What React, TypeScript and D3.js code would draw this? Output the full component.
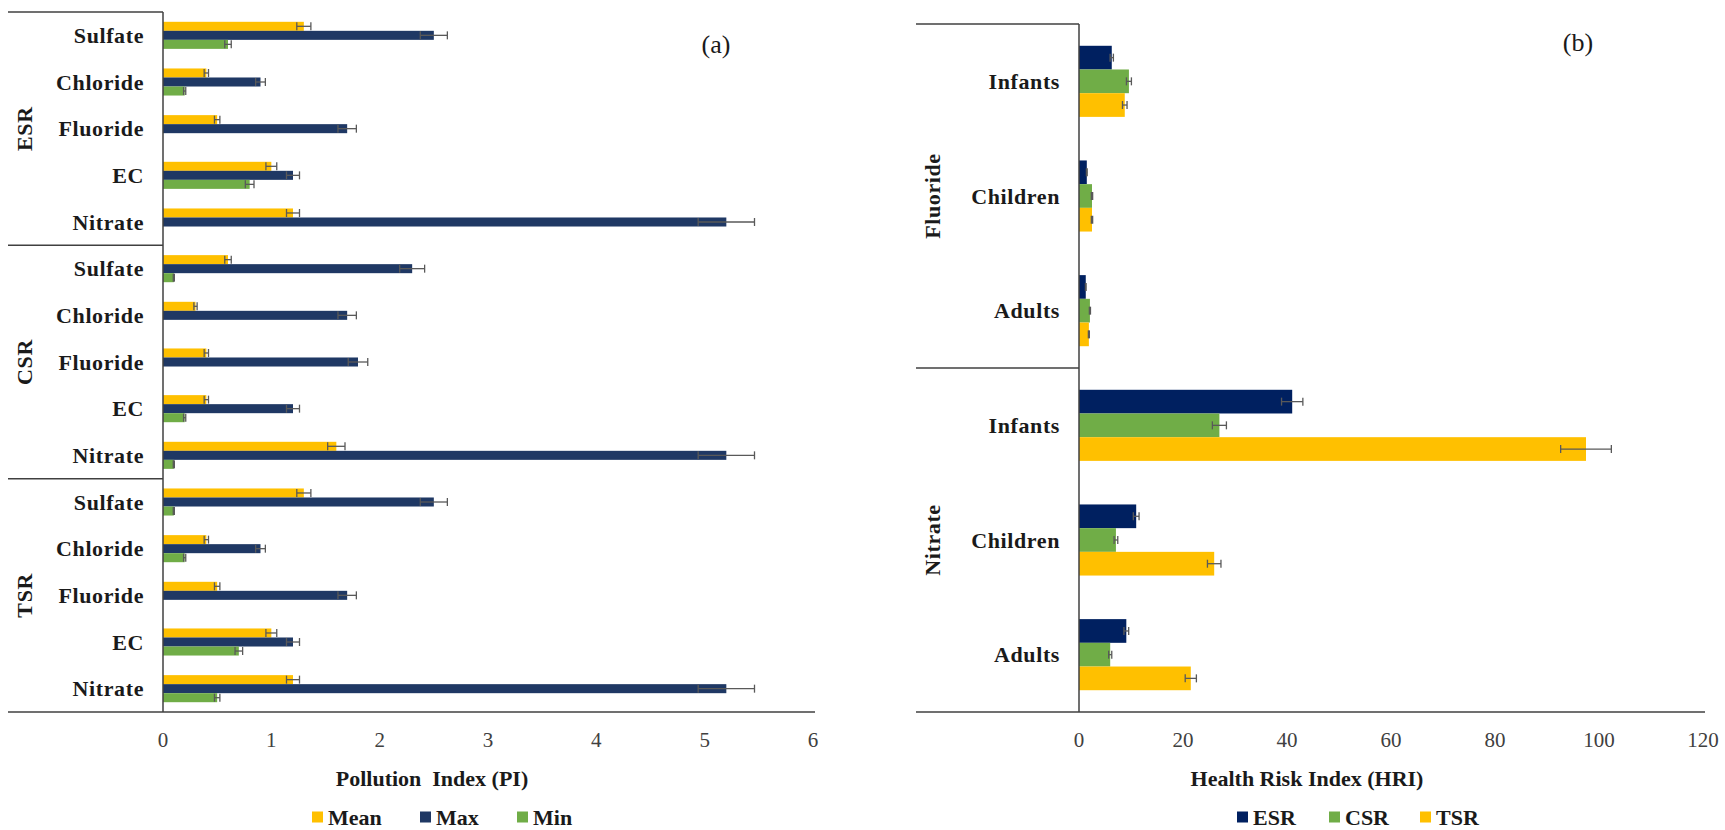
import React from 'react';
import * as d3 from 'd3';

// panel (a): pollution index
const groupsA = ['ESR', 'CSR', 'TSR'];
const paramsA = ['Sulfate', 'Chloride', 'Fluoride', 'EC', 'Nitrate'];
const seriesA = ['Mean', 'Max', 'Min'];
const meanA = [1.3, 0.4, 0.5, 1.0, 1.2, 0.6, 0.3, 0.4, 0.4, 1.6, 1.3, 0.4, 0.5, 1.0, 1.2];
const maxA = [2.5, 0.9, 1.7, 1.2, 5.2, 2.3, 1.7, 1.8, 1.2, 5.2, 2.5, 0.9, 1.7, 1.2, 5.2];
const minA = [0.6, 0.2, 0, 0.8, 0, 0.1, 0, 0, 0.2, 0.1, 0.1, 0.2, 0, 0.7, 0.5];
const ticksA = [0, 1, 2, 3, 4, 5, 6];

// panel (b): health risk index
const groupsB = ['Fluoride', 'Nitrate'];
const agesB = ['Infants', 'Children', 'Adults'];
const seriesB = ['ESR', 'CSR', 'TSR'];
const esrB = [6.3, 1.5, 1.3, 41, 11, 9.1];
const csrB = [9.6, 2.5, 2.1, 27, 7.1, 6];
const tsrB = [8.8, 2.5, 1.9, 97.5, 26, 21.5];
const ticksB = [0, 20, 40, 60, 80, 100, 120];

// Excel percentage error bars
const errorPct = 0.05;

const FONT = '"Liberation Serif", "Times New Roman", serif';
const AXIS = '#404040';

type PanelProps = {
  left: number;
  axisX: number;
  right: number;
  top: number;
  bottom: number;
  max: number;
  ticks: number[];
  groups: string[];
  cats: string[];
  series: string[];
  values: number[][];
  colors: string[];
  fill: number;
  title: string;
  titleX: number;
  tag: string;
  tagX: number;
  tagY: number;
  legendX: number[];
};

const Panel = (p: PanelProps) => {
  const x = d3.scaleLinear().domain([0, p.max]).range([p.axisX, p.right]);
  const keys = p.groups.flatMap((g) => p.cats.map((c) => `${g}|${c}`));
  const y = d3.scaleBand().domain(keys).range([p.top, p.bottom]).padding(0);
  const bw = y.bandwidth();
  const gh = bw * p.fill;
  const sub = d3
    .scaleBand()
    .domain(p.series)
    .range([(bw - gh) / 2, (bw + gh) / 2])
    .padding(0);
  const bh = sub.bandwidth();
  const groupH = (p.bottom - p.top) / p.groups.length;

  return (
    <g>
      {/* bars */}
      {p.series.map((s, si) => (
        <g key={s}>
          {keys.map((k, i) => {
            const v = p.values[si][i];
            if (!v) return null;
            const yy = (y(k) as number) + (sub(s) as number);
            const e = v * errorPct;
            const cy = yy + bh / 2;
            return (
              <g key={k}>
                <rect x={x(0)} y={yy} width={x(v) - x(0)} height={bh} fill={p.colors[si]} />
                <line x1={x(v - e)} x2={x(v + e)} y1={cy} y2={cy} stroke="#595959" strokeWidth={1.3} />
                <line x1={x(v - e)} x2={x(v - e)} y1={cy - 4} y2={cy + 4} stroke="#595959" strokeWidth={1.3} />
                <line x1={x(v + e)} x2={x(v + e)} y1={cy - 4} y2={cy + 4} stroke="#595959" strokeWidth={1.3} />
              </g>
            );
          })}
        </g>
      ))}

      {/* category labels */}
      {keys.map((k) => (
        <text
          key={k}
          x={p.axisX - 19}
          y={(y(k) as number) + bw / 2}
          textAnchor="end"
          dominantBaseline="central"
          fontFamily={FONT}
          fontWeight="bold"
          fontSize={22}
          letterSpacing={0.6}
          fill="#1a1a1a"
        >
          {k.split('|')[1]}
        </text>
      ))}

      {/* group labels */}
      {p.groups.map((g, gi) => {
        const cy = p.top + groupH * (gi + 0.5);
        const cx = p.left + 16;
        return (
          <text
            key={g}
            transform={`translate(${cx},${cy}) rotate(-90)`}
            textAnchor="middle"
            dominantBaseline="central"
            fontFamily={FONT}
            fontWeight="bold"
            fontSize={22}
            letterSpacing={0.6}
            fill="#1a1a1a"
          >
            {g}
          </text>
        );
      })}

      {/* frame lines */}
      <line x1={p.axisX} x2={p.axisX} y1={p.top} y2={p.bottom} stroke={AXIS} strokeWidth={1.5} />
      {p.groups.map((g, gi) => {
        const yy = p.top + groupH * gi;
        return <line key={g} x1={p.left} x2={p.axisX} y1={yy} y2={yy} stroke={AXIS} strokeWidth={1.5} />;
      })}
      <line x1={p.left} x2={p.right + 2} y1={p.bottom} y2={p.bottom} stroke={AXIS} strokeWidth={1.5} />

      {/* ticks */}
      {p.ticks.map((t) => (
        <text
          key={t}
          x={x(t)}
          y={p.bottom + 28}
          textAnchor="middle"
          dominantBaseline="central"
          fontFamily={FONT}
          fontSize={21}
          fill="#404040"
        >
          {t}
        </text>
      ))}

      <text
        x={p.titleX}
        y={p.bottom + 66}
        textAnchor="middle"
        dominantBaseline="central"
        fontFamily={FONT}
        fontWeight="bold"
        fontSize={22}
        fill="#1a1a1a"
        style={{ whiteSpace: 'pre' }}
      >
        {p.title}
      </text>

      <text
        x={p.tagX}
        y={p.tagY}
        textAnchor="middle"
        dominantBaseline="central"
        fontFamily={FONT}
        fontSize={26}
        fill="#1a1a1a"
      >
        {p.tag}
      </text>

      {/* legend */}
      {p.series.map((s, si) => (
        <g key={s} transform={`translate(${p.legendX[si]},817)`}>
          <rect x={0} y={-5.5} width={11} height={11} fill={p.colors[si]} />
          <text
            x={16}
            y={0}
            dominantBaseline="central"
            fontFamily={FONT}
            fontWeight="bold"
            fontSize={22}
            fill="#1a1a1a"
          >
            {s}
          </text>
        </g>
      ))}
    </g>
  );
};

export default function App() {
  return (
    <svg
      width={1725}
      height={830}
      style={{ position: 'absolute', left: 0, top: 0, background: '#fff' }}
    >
      <rect width={1725} height={830} fill="#fff" />
      <Panel
        left={8}
        axisX={163}
        right={813}
        top={12}
        bottom={712}
        max={6}
        ticks={ticksA}
        groups={groupsA}
        cats={paramsA}
        series={seriesA}
        values={[meanA, maxA, minA]}
        colors={['#FFC000', '#1F3864', '#70AD47']}
        fill={0.58}
        title={'Pollution  Index (PI)'}
        titleX={432}
        tag="(a)"
        tagX={716}
        tagY={44}
        legendX={[312, 420, 517]}
      />
      <Panel
        left={916}
        axisX={1079}
        right={1703}
        top={24}
        bottom={712}
        max={120}
        ticks={ticksB}
        groups={groupsB}
        cats={agesB}
        series={seriesB}
        values={[esrB, csrB, tsrB]}
        colors={['#002060', '#70AD47', '#FFC000']}
        fill={0.62}
        title="Health Risk Index (HRI)"
        titleX={1307}
        tag="(b)"
        tagX={1578}
        tagY={42}
        legendX={[1237, 1329, 1420]}
      />
    </svg>
  );
}
